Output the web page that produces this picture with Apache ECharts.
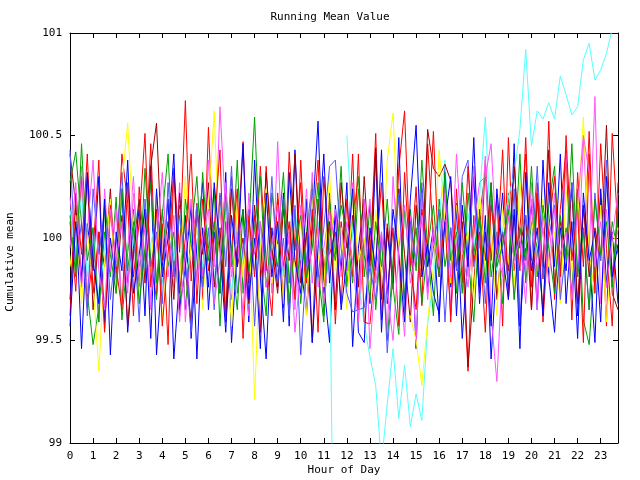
<!DOCTYPE html>
<html>
<head>
<meta charset="utf-8">
<script src="https://cdn.jsdelivr.net/npm/echarts@6/dist/echarts.min.js"></script>
<style>html,body{margin:0;padding:0;background:#fff;}#c{width:640px;height:480px;}</style>
</head>
<body>
<div id="c"></div>
<script>
const hours = [0,0.25,0.5,0.75,1,1.25,1.5,1.75,2,2.25,2.5,2.75,3,3.25,3.5,3.75,4,4.25,4.5,4.75,5,5.25,5.5,5.75,6,6.25,6.5,6.75,7,7.25,7.5,7.75,8,8.25,8.5,8.75,9,9.25,9.5,9.75,10,10.25,10.5,10.75,11,11.25,11.5,11.75,12,12.25,12.5,12.75,13,13.25,13.5,13.75,14,14.25,14.5,14.75,15,15.25,15.5,15.75,16,16.25,16.5,16.75,17,17.25,17.5,17.75,18,18.25,18.5,18.75,19,19.25,19.5,19.75,20,20.25,20.5,20.75,21,21.25,21.5,21.75,22,22.25,22.5,22.75,23,23.25,23.5,23.75];

const sA = [100.08,99.74,100.30,99.66,99.93,100.38,99.56,100.14,99.83,100.41,100.17,99.62,
100.25,99.86,100.46,99.72,100.07,99.48,100.34,99.93,100.67,99.79,100.17,99.70,
100.54,99.89,100.21,99.59,100.30,99.97,100.47,99.78,100.11,99.54,100.35,99.86,
100.19,99.66,100.42,99.94,100.27,99.62,100.03,100.38,99.73,100.22,99.58,100.08,
99.84,100.41,99.65,100.14,99.89,100.51,99.60,100.07,99.75,100.34,100.62,99.86,
100.25,99.67,100.46,100.00,99.81,100.30,99.59,100.17,99.93,99.35,100.11,99.73,
100.38,99.89,100.21,99.57,100.49,99.84,100.05,100.41,99.65,100.27,99.80,100.57,
99.70,100.14,100.43,99.60,100.32,99.86,100.52,99.75,100.22,99.57,100.51,100.03];
const sB = [100.27,100.42,100.07,99.73,99.48,99.66,100.03,99.81,100.20,99.60,99.93,100.14,
99.76,100.34,99.89,99.70,100.11,100.41,99.84,100.16,99.65,100.03,100.30,99.80,
99.95,100.24,99.57,100.08,99.86,100.38,99.73,100.05,100.59,99.89,99.62,100.22,
99.97,100.32,99.78,100.14,99.68,100.03,100.27,99.84,99.59,100.19,99.92,100.35,
99.76,100.08,100.30,99.81,100.16,99.65,100.00,99.50,99.89,100.24,99.70,100.14,
99.84,100.38,99.95,99.62,100.19,99.86,100.05,99.73,100.27,99.92,99.59,100.11,
100.32,99.81,100.03,99.68,100.22,99.89,100.41,99.78,100.08,99.95,99.65,100.16,
100.35,99.84,100.05,99.73,100.24,99.60,99.48,99.89,100.19,99.76,100.08,99.92];
const sC = [99.70,100.16,99.46,100.07,99.84,100.30,99.59,100.00,99.78,100.24,99.54,99.92,
100.14,99.62,100.35,99.43,99.86,100.19,99.41,99.81,100.11,99.51,99.97,100.27,
99.65,100.03,99.73,100.32,99.49,99.95,100.14,99.59,100.38,99.81,99.41,100.05,
99.76,100.22,99.57,100.43,99.86,99.65,100.08,100.57,99.78,99.49,100.16,99.84,
100.27,99.47,99.95,100.19,99.68,100.41,99.54,100.03,99.78,100.49,99.62,100.11,
99.46,100.24,99.86,100.05,99.59,100.35,99.76,100.14,99.51,99.92,100.30,99.68,
100.11,99.41,99.89,100.22,99.73,100.46,99.57,99.97,100.16,99.65,100.38,99.81,
99.54,100.05,99.84,100.27,99.62,100.14,99.92,99.49,100.24,99.78,100.03,99.68];
const sD = [100.20,99.89,100.35,99.73,100.05,99.59,100.24,99.84,100.14,99.68,99.95,100.30,
99.78,100.08,99.65,100.22,99.89,100.03,99.76,100.27,99.59,99.97,100.16,99.81,
100.38,99.86,100.64,100.11,99.70,100.19,99.92,99.62,100.08,99.84,100.24,99.73,
100.47,99.81,100.03,99.65,100.16,99.86,100.32,99.76,99.95,100.14,99.70,100.05,
99.84,100.27,99.59,99.95,100.19,99.78,100.00,99.54,100.30,99.86,99.52,100.11,
99.48,100.22,99.73,100.05,99.89,100.27,99.65,99.97,100.14,99.81,100.35,99.95,
100.40,99.62,99.30,99.86,100.16,99.70,100.05,99.84,100.27,99.65,100.11,99.89,
100.22,99.73,100.41,100.03,99.81,100.48,99.92,100.69,99.68,100.14,99.84,100.05];
const sE = [100.14,99.92,100.22,99.81,100.05,99.70,99.95,100.16,99.86,100.08,99.76,100.00,
100.19,99.84,99.97,100.11,99.78,100.03,99.89,100.14,99.81,99.95,100.08,99.86,
100.03,99.78,100.16,99.92,99.73,100.05,99.89,100.11,99.84,99.97,100.19,99.86,
100.05,99.81,99.95,100.14,99.89,100.03,99.78,100.08,99.92,100.00,97.50,null,
100.50,100.00,99.80,99.58,99.42,99.28,98.90,99.19,99.46,99.12,99.38,99.08,
99.24,99.11,99.58,99.80,100.10,100.38,99.90,100.05,99.86,100.12,99.94,100.20,
100.59,99.98,99.84,100.04,100.20,100.31,100.53,100.92,100.45,100.62,100.58,100.66,
100.58,100.79,100.70,100.60,100.64,100.87,100.95,100.77,100.82,100.90,101.02,101.10];
const sF = [100.41,100.16,99.81,100.30,99.65,100.03,99.86,100.24,99.73,100.11,99.57,99.95,
100.19,99.78,100.35,100.56,99.89,100.08,99.70,100.22,99.84,99.59,100.14,99.92,
100.27,99.76,100.05,99.62,100.24,99.86,100.00,99.68,100.16,99.81,100.32,99.95,
99.73,100.14,99.89,100.41,99.78,100.03,99.49,100.19,99.84,100.08,99.65,100.27,
99.95,100.11,99.76,100.30,99.86,100.44,99.70,100.05,99.81,100.24,99.92,99.59,
100.16,99.84,100.53,100.34,100.30,100.36,100.28,99.86,100.08,99.37,99.78,100.14,
99.89,100.27,99.70,100.03,99.84,100.35,99.95,100.11,99.65,100.19,99.86,100.43,
99.76,100.08,99.92,100.24,99.68,100.16,99.81,100.05,99.89,100.55,99.73,99.65];
const sG = [99.86,100.11,99.68,100.03,99.78,99.35,99.89,100.19,99.73,100.27,100.56,100.03,
99.70,100.14,99.84,100.22,99.59,99.95,100.08,99.76,100.30,99.89,100.05,99.65,
100.16,100.62,99.86,100.00,99.57,100.19,99.81,100.11,99.21,99.95,100.24,99.78,
100.03,99.68,100.27,99.86,100.08,99.62,100.19,99.92,99.76,100.32,99.84,100.05,
99.65,100.22,99.89,100.00,99.73,100.14,99.81,100.38,100.61,99.95,99.62,99.62,
99.50,99.28,99.60,99.86,100.43,100.08,99.78,100.16,99.92,100.03,99.70,100.22,
99.84,100.05,99.62,100.14,99.89,99.76,100.27,99.95,100.11,99.81,100.19,99.86,
100.03,99.68,100.24,99.84,100.08,100.59,99.92,99.73,100.16,99.59,99.97,100.05];
const sH = [100.43,99.84,100.08,99.62,100.24,99.92,100.14,99.70,99.97,100.32,99.78,100.05,
99.59,100.19,99.86,100.03,99.68,100.27,99.81,100.11,99.89,99.54,100.16,99.76,
100.05,99.65,100.22,99.86,100.35,99.73,99.95,100.14,99.57,100.08,99.84,100.30,
99.78,100.00,99.62,100.16,99.43,99.89,100.24,99.81,100.05,100.35,100.38,99.95,
99.73,99.64,99.65,99.66,99.86,99.70,100.03,99.44,99.84,100.22,99.65,100.08,
99.89,100.27,99.76,99.95,100.14,99.59,100.05,99.84,100.30,100.38,99.86,100.08,
99.68,100.19,99.92,100.03,99.78,100.24,99.59,100.11,99.89,100.35,99.81,100.00,
100.16,99.70,99.95,100.27,99.84,100.05,99.65,100.22,99.89,100.38,99.78,100.14];
const sI = [99.62,100.22,99.92,100.41,99.73,100.03,99.54,100.16,99.86,99.65,100.27,99.81,
100.08,100.51,99.76,100.14,99.57,99.92,100.32,99.73,100.00,100.41,99.68,100.19,
99.84,100.05,100.43,99.59,99.95,100.24,99.51,100.11,99.81,100.35,99.89,99.62,
100.22,99.86,100.08,99.70,100.38,99.78,100.14,99.54,100.30,99.92,100.03,99.68,
100.19,99.81,100.41,99.59,99.58,99.89,100.27,99.73,100.05,99.57,100.32,99.86,
99.65,100.14,99.95,100.52,99.84,100.08,99.62,100.24,99.78,100.35,99.89,100.03,
99.54,100.16,99.92,100.43,99.70,100.11,99.84,100.49,99.76,100.22,99.59,100.05,
100.30,99.81,100.50,99.89,100.14,99.49,100.41,99.73,100.46,99.95,99.57,100.27];
const sJ = [100.11,99.81,100.46,99.89,100.05,99.59,100.16,99.92,99.73,100.24,99.84,100.08,
99.68,99.95,100.27,99.78,100.14,99.86,100.03,99.62,100.19,99.97,99.81,100.32,
99.89,100.08,99.73,100.22,99.92,99.65,100.14,99.84,100.05,100.30,99.76,100.00,
99.86,100.19,99.68,99.97,100.11,99.81,99.95,100.27,99.62,100.05,99.89,100.16,
100.03,99.78,100.24,99.92,99.70,100.08,99.86,100.19,99.76,99.53,100.14,99.84,
100.05,99.68,99.95,100.16,99.81,100.32,99.89,100.03,99.73,100.22,99.92,100.11,
99.78,100.27,99.86,99.97,100.14,99.70,100.05,99.89,100.35,99.81,100.16,99.95,
99.73,100.11,99.89,100.46,99.81,100.03,99.65,100.19,99.92,100.08,99.76,100.16];
const sK = [99.57,100.08,99.78,100.32,99.89,99.68,100.19,99.43,100.03,99.84,100.38,99.73,
99.92,100.14,99.51,100.24,99.81,100.00,100.41,99.65,99.86,100.16,99.41,100.05,
99.76,100.27,99.95,99.54,100.11,99.86,100.46,99.70,100.00,99.46,100.22,99.81,
100.08,99.59,100.32,99.89,99.73,100.19,99.49,99.95,100.41,99.78,100.11,99.65,
99.89,100.24,99.54,99.49,100.05,99.84,100.43,99.68,100.14,99.92,99.59,100.19,
100.55,99.81,99.97,99.73,99.63,100.08,100.30,99.62,100.16,99.86,100.49,99.76,
100.03,99.57,100.24,99.92,99.70,100.14,99.46,100.32,99.84,100.05,99.62,100.27,
99.86,100.41,99.68,100.08,99.51,100.22,99.89,100.03,99.59,100.30,99.81,99.97];
const sL = [99.95,100.27,99.76,100.03,100.38,99.84,99.65,100.14,99.89,100.08,99.73,100.22,
99.86,100.05,99.70,99.97,100.32,99.81,100.11,99.59,99.92,100.19,99.78,100.00,
100.14,99.68,99.89,100.27,99.81,100.03,99.62,100.22,99.92,100.08,99.76,99.97,
100.16,99.84,100.00,99.54,99.86,100.24,99.78,100.05,99.68,99.95,100.14,99.81,
100.08,99.89,99.59,100.19,99.46,99.84,100.03,99.73,99.50,99.95,100.16,99.78,
99.92,100.11,99.70,100.03,99.86,100.22,99.81,100.41,99.95,99.76,100.05,100.27,
100.30,100.46,99.95,99.81,100.11,99.89,100.00,99.68,100.19,99.84,100.05,99.78,
100.14,99.92,100.03,99.70,100.16,100.50,100.32,99.86,100.08,99.76,100.00,100.22];

const seriesData = [sA,sB,sC,sD,sE,sF,sG,sH,sI,sJ,sK,sL];
const seriesColors = ['#ff0000','#00a000','#0000ff','#ff55ff','#55ffff','#a00000','#ffff00','#5555ff','#ff0000','#00a000','#0000ff','#ff55ff'];
const yTicks = [99, 99.5, 100, 100.5, 101];

const FONT = 'DejaVu Sans Mono';
const chart = echarts.init(document.getElementById('c'), null, {renderer:'canvas'});
const catAxisBase = {
  type: 'category', data: hours, boundaryGap: false,
  axisLine: {show: true, lineStyle: {color: '#000', width: 1}},
  axisTick: {show: true, inside: true, length: 5, interval: 3, lineStyle: {color: '#000'}},
  splitLine: {show: false}
};
const valAxisBase = {
  type: 'value', min: 99, max: 101, interval: 0.5,
  axisLine: {show: true, lineStyle: {color: '#000', width: 1}},
  axisTick: {show: true, inside: true, length: 5, lineStyle: {color: '#000'}},
  splitLine: {show: false}
};
chart.setOption({
  animation: false,
  backgroundColor: '#fff',
  grid: {left: 70, right: 22, top: 33, bottom: 37},
  xAxis: [
    Object.assign({}, catAxisBase, {
      position: 'bottom',
      axisLabel: {show: true, interval: 3, color: '#000', fontFamily: FONT, fontSize: 11, margin: 8,
        formatter: v => String(Math.round(Number(v)))}
    }),
    Object.assign({}, catAxisBase, {position: 'top', axisLabel: {show: false}})
  ],
  yAxis: [
    Object.assign({}, valAxisBase, {
      position: 'left',
      axisLabel: {show: true, color: '#000', fontFamily: FONT, fontSize: 11, margin: 8,
        formatter: v => yTicks.includes(v) ? String(v) : ''}
    }),
    Object.assign({}, valAxisBase, {position: 'right', axisLabel: {show: false}})
  ],
  graphic: [
    {type: 'text', style: {text: 'Running Mean Value', font: '11px "DejaVu Sans Mono"', fill: '#000', textAlign: 'center', textVerticalAlign: 'middle'}, x: 330, y: 17},
    {type: 'text', style: {text: 'Hour of Day', font: '11px "DejaVu Sans Mono"', fill: '#000', textAlign: 'center', textVerticalAlign: 'middle'}, x: 344, y: 470},
    {type: 'text', style: {text: 'Cumulative mean', font: '11px "DejaVu Sans Mono"', fill: '#000', textAlign: 'center', textVerticalAlign: 'middle'}, x: 10, y: 262, rotation: Math.PI/2}
  ],
  series: seriesData.map((d, i) => ({
    type: 'line', data: d, xAxisIndex: 0, yAxisIndex: 0,
    showSymbol: false, symbol: 'none', clip: true, connectNulls: false,
    lineStyle: {color: seriesColors[i], width: 1},
    itemStyle: {color: seriesColors[i]},
    emphasis: {disabled: true}
  }))
});
</script>
</body>
</html>
